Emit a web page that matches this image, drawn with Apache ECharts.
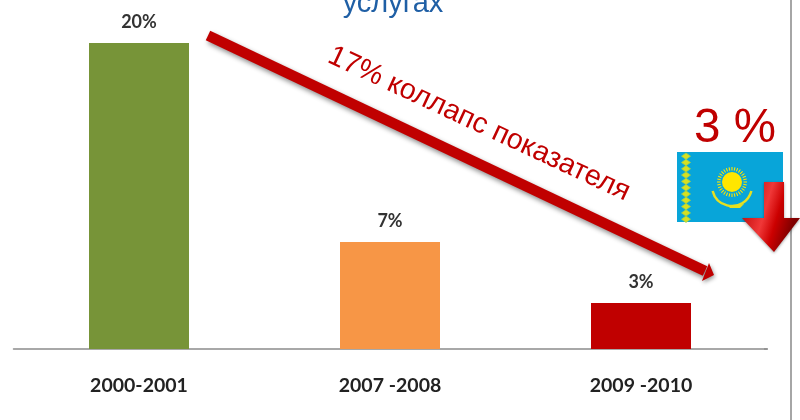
<!DOCTYPE html>
<html><head><meta charset="utf-8">
<style>html,body{margin:0;padding:0;background:#fff}#c{width:800px;height:420px}</style>
<script src="https://cdn.jsdelivr.net/npm/echarts@6/dist/echarts.min.js"></script>
</head><body><div id="c"></div>
<script>
var categories = ['2000-2001', '2007 -2008', '2009 -2010'];
var values = [20, 7, 3];
var valueLabels = ['20%', '7%', '3%'];
var barColors = ['#779438', '#f79646', '#c00000'];
var titleFragment = 'услугах';
var collapseText = '17% коллапс показателя';
var currentText = '3 %';

var chart = echarts.init(document.getElementById('c'), null, {renderer: 'canvas'});
var RED = '#c00000';
var flagBlue = '#08a5d9', flagYellow = '#ffe600';

var rays = [];
for (var i = 0; i < 32; i++) {
  var a = i / 32 * Math.PI * 2;
  rays.push({type: 'line', shape: {x1: 732 + 11.5 * Math.cos(a), y1: 182 + 11.5 * Math.sin(a), x2: 732 + 15 * Math.cos(a), y2: 182 + 15 * Math.sin(a)},
    style: {stroke: flagYellow, lineWidth: 1.1}, silent: true});
}
var orn = [];
for (var j = 0; j < 11; j++) {
  orn.push({type: 'polygon', shape: {points: [[686, 153 + j * 6.3], [690.5, 156.2 + j * 6.3], [686, 159.4 + j * 6.3], [681.5, 156.2 + j * 6.3]]},
    style: {fill: '#d8e020', stroke: '#9ccf50', lineWidth: 0.8}, silent: true});
}

chart.setOption({
  animation: false,
  backgroundColor: '#ffffff',
  grid: {left: 13.5, right: 33.5, top: 43, bottom: 71, containLabel: false},
  xAxis: {
    type: 'category', data: categories,
    axisLine: {show: true, lineStyle: {color: '#8c8c8c', width: 1.5}},
    axisTick: {show: false},
    axisLabel: {margin: 27, fontFamily: 'Lato', fontWeight: 'bold', fontSize: 19.5, color: '#222222'}
  },
  yAxis: {type: 'value', min: 0, max: 20, show: false, splitLine: {show: false}},
  series: [{
    type: 'bar', barWidth: 100,
    data: values.map(function (v, i) { return {value: v, itemStyle: {color: barColors[i]}}; }),
    label: {show: true, position: 'top', distance: 12,
      formatter: function (p) { return valueLabels[p.dataIndex]; },
      fontFamily: 'Lato', fontWeight: 'bold', fontSize: 18, color: '#333333'}
  }],
  graphic: [
    {type: 'line', shape: {x1: 764, y1: 349, x2: 768, y2: 349}, style: {stroke: '#8c8c8c', lineWidth: 1.5}, silent: true},
    {type: 'line', shape: {x1: 791, y1: 0, x2: 791, y2: 420}, style: {stroke: '#a6a6a6', lineWidth: 2}, silent: true},
    {type: 'text', x: 393, y: 18, style: {text: titleFragment, fill: '#1f5fa5', font: '29px "Liberation Sans"', textAlign: 'center', textVerticalAlign: 'bottom'}, silent: true},
    {type: 'line', shape: {x1: 208, y1: 35.5, x2: 705, y2: 271}, style: {stroke: RED, lineWidth: 10.5, shadowBlur: 5, shadowColor: 'rgba(0,0,0,0.45)', shadowOffsetX: 2, shadowOffsetY: 3}, silent: true},
    {type: 'polygon', shape: {points: [[714, 275], [702, 281], [709, 263]]}, style: {fill: RED, shadowBlur: 4, shadowColor: 'rgba(0,0,0,0.4)', shadowOffsetX: 1, shadowOffsetY: 2}, silent: true},
    {type: 'text', x: 479, y: 124, rotation: -25 * Math.PI / 180,
      style: {text: collapseText, fill: RED, font: '28.7px "Liberation Sans"', textAlign: 'center', textVerticalAlign: 'middle'}, silent: true},
    {type: 'text', x: 735, y: 129, style: {text: currentText, fill: RED, font: '47.5px "Liberation Sans"', textAlign: 'center', textVerticalAlign: 'middle'}, silent: true},
    {type: 'rect', shape: {x: 677, y: 152, width: 106, height: 70}, style: {fill: flagBlue}, silent: true}
  ].concat(orn).concat(rays).concat([
    {type: 'circle', shape: {cx: 732, cy: 182, r: 10}, style: {fill: flagYellow}, silent: true},
    {type: 'arc', shape: {cx: 732, cy: 186, r: 20, startAngle: 0.25, endAngle: Math.PI - 0.25}, style: {stroke: '#e6e020', lineWidth: 2.5, fill: null}, silent: true},
    {type: 'polygon', shape: {points: [[728, 206], [744, 204], [740, 208], [730, 208]]}, style: {fill: '#e6e020'}, silent: true},
    {type: 'polygon', shape: {points: [[764, 182], [784, 182], [784, 218], [800, 218], [774, 252], [742, 218], [764, 218]]},
      style: {fill: new echarts.graphic.LinearGradient(0, 0, 1, 0.25, [
        {offset: 0, color: '#8f1010'}, {offset: 0.3, color: '#d62020'}, {offset: 0.5, color: '#f03838'}, {offset: 0.72, color: '#cc0000'}, {offset: 1, color: '#800000'}
      ]), shadowBlur: 3, shadowColor: 'rgba(0,0,0,0.4)', shadowOffsetY: 1}, silent: true}
  ])
});
</script></body></html>
